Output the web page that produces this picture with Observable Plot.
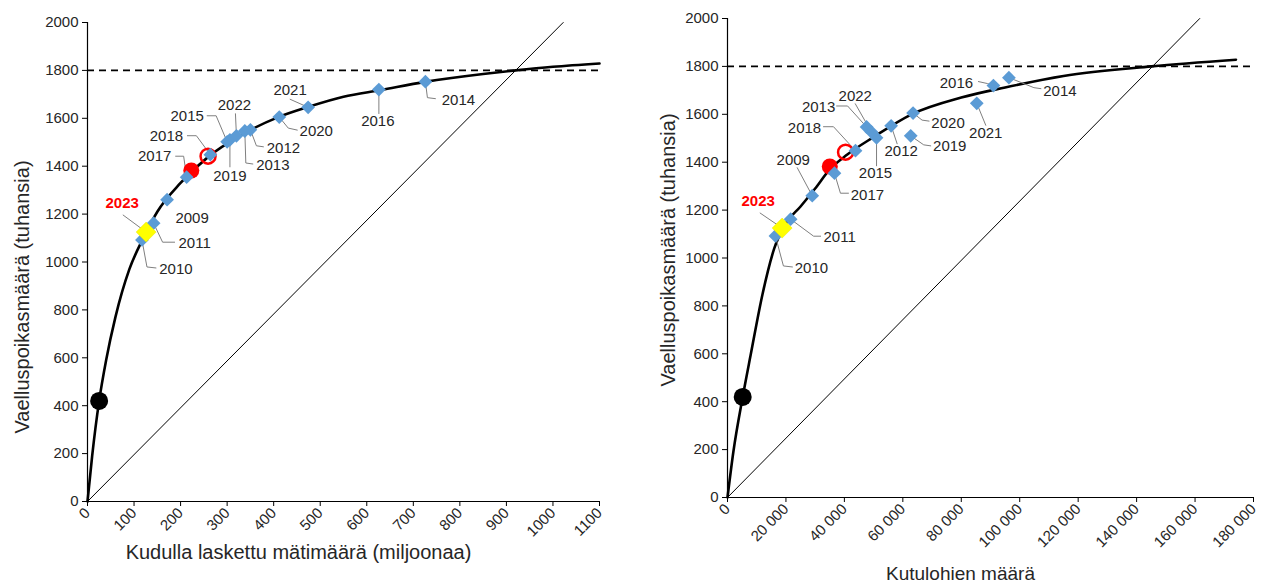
<!DOCTYPE html>
<html><head><meta charset="utf-8">
<script src="https://cdn.jsdelivr.net/npm/d3@7"></script>
<script src="https://cdn.jsdelivr.net/npm/@observablehq/plot@0.6"></script>
<style>
body{margin:0;background:#fff;font-family:Arial,"Liberation Sans",sans-serif;}
#wrap{position:relative;width:1264px;height:585px;overflow:hidden;}
#left,#right{position:absolute;top:0;}
#left{left:0} #right{left:632px}
</style></head><body>
<div id="wrap"><div id="left"></div><div id="right"></div></div>
<script>
// ---------- data ----------
const years    = [2009, 2010, 2011, 2012, 2013, 2014, 2015, 2016, 2017, 2018, 2019, 2020, 2021, 2022];
const smolts   = [1260, 1092, 1162, 1552, 1547, 1753, 1502, 1720, 1354, 1448, 1510, 1605, 1646, 1527];
const eggs     = [171, 117, 142, 350, 338, 726, 300, 626, 213, 264, 306, 412, 474, 320];
const spawners = [29000, 16400, 21600, 56000, 47600, 96300, 51000, 91000, 36600, 43800, 62700, 63500, 85300, 49200];

const year2023 = 2023, smolts2023 = 1125, eggs2023 = 126, spawners2023 = 18700;

// reference points: [black dot, red filled, red open]
const refSmolts   = [420, 1382, 1442];
const refEggs     = [25, 223, 259];
const refSpawners = [5200, 35000, 40400];

// fitted stock-recruit curves
const eggCurveX   = [0, 10, 25, 40, 60, 90, 120, 150, 200, 260, 330, 410, 475, 550, 630, 725, 850, 920, 1000, 1100];
const eggCurveY   = [0, 190, 420, 590, 770, 970, 1100, 1210, 1330, 1440, 1530, 1605, 1648, 1690, 1718, 1752, 1785, 1800, 1815, 1829];
const spawnCurveX = [0, 2000, 5200, 8000, 12000, 16000, 20000, 25000, 30000, 35000, 41000, 50000, 63000, 80000, 95000, 115000, 145000, 174000];
const spawnCurveY = [0, 190, 420, 600, 850, 1040, 1145, 1215, 1290, 1370, 1432, 1505, 1600, 1670, 1712, 1760, 1800, 1828];

// replacement lines and maximum level
const eggDiagX = [0, 1022], spawnDiagX = [0, 161600], diagY = [0, 2000];
const maxLevel = 1800;

const yTicks = [0, 200, 400, 600, 800, 1000, 1200, 1400, 1600, 1800, 2000];
const eggTicks = [0, 100, 200, 300, 400, 500, 600, 700, 800, 900, 1000, 1100];
const spawnTicks = [0, 20000, 40000, 60000, 80000, 100000, 120000, 140000, 160000, 180000];

const yTitle = "Vaelluspoikasmäärä (tuhansia)";
const eggTitle = "Kudulla laskettu mätimäärä (miljoonaa)";
const spawnTitle = "Kutulohien määrä";

// ---------- label layout (pixel offsets) ----------
// d: label centre relative to marker; l: leader points relative to label centre (ends at marker)
const layoutLeft = {
  2014: {d: [33, 19], l: [[-23, -2], [-31, -3]]},
  2016: {d: [-1, 32], l: [[1, -8]]},
  2021: {d: [-18, -17], l: [[0, 9]]},
  2020: {d: [37, 14], l: [[-19, -1], [-28, -3]]},
  2012: {d: [33, 18], l: [[-20, -1], [-27, -2]]},
  2013: {d: [28, 34], l: [[-20, -1], [-27, -2]]},
  2019: {d: [0, 36], l: [[0, -9]]},
  2015: {d: [-40, -26], l: [[20, 0], [29, 0]]},
  2022: {d: [-2, -31], l: [[1, 9]]},
  2018: {d: [-44, -19], l: [[21, 0], [30, 0]]},
  2017: {d: [-32, -21], l: [[21, 0], [29, 0]]},
  2009: {d: [25, 18], l: null},
  2011: {d: [41, 20], l: [[-20, -1], [-32, -1]]},
  2010: {d: [34, 29], l: [[-20, -1], [-29, -2]]},
  2023: {d: [-24, -29], l: [[1, 12]]}
};
const layoutRight = {
  2014: {d: [51, 14], l: [[-19, -3], [-26, -4]]},
  2016: {d: [-37, -2], l: [[22, -2], [31, 0]]},
  2021: {d: [9, 30], l: [[0, -8]]},
  2020: {d: [35, 10], l: [[-19, -2], [-26, -3]]},
  2019: {d: [39, 10], l: [[-19, 0], [-26, -1]]},
  2012: {d: [10, 25], l: [[-4, -7]]},
  2015: {d: [-1, 35], l: [[1, -7]]},
  2013: {d: [-48, -20], l: [[18, -1], [29, -1]]},
  2022: {d: [-16, -36], l: [[0, 8]]},
  2018: {d: [-51, -23], l: [[19, -1], [29, -1]]},
  2009: {d: [-19, -36], l: [[4, 8]]},
  2017: {d: [33, 22], l: [[-19, -2], [-27, -2]]},
  2011: {d: [49, 18], l: [[-19, -1], [-26, -1]]},
  2010: {d: [36, 32], l: [[-19, -1], [-28, -2]]},
  2023: {d: [-24, -27], l: [[2, 12]]}
};

const spaceFmt = d => d === 0 ? "0" : d3.format(",")(d).replace(/,/g, " ");
const INK = "#262626";

function chart(cfg) {
  const {W, H, ml, mr, mt, mb, xDomain, xTicks, xFmt, curveX, curveY, diagX, ptsX, x23, refX, layout,
         xTitle, xtDx, xtDy, xtSize, ytDx, ytDy} = cfg;
  const xs = d3.scaleLinear(xDomain, [ml, W - mr]);
  const ys = d3.scaleLinear([0, 2000], [H - mb, mt]);
  const pts = years.map((yr, i) => ({yr, x: ptsX[i], y: smolts[i]}));
  const p23 = {yr: year2023, x: x23, y: smolts2023};
  const curve = curveX.map((x, i) => ({x, y: curveY[i]}));
  const diag = diagX.map((x, i) => ({x, y: diagY[i]}));
  const labels = [], leaders = [];
  for (const p of [...pts, p23]) {
    const L = layout[p.yr];
    const px = xs(p.x), py = ys(p.y);
    const lx = px + L.d[0], ly = py + L.d[1];
    labels.push({yr: p.yr, x: xs.invert(lx), y: ys.invert(ly), red: p.yr === year2023});
    if (L.l) {
      const chain = L.l.map(([a, b]) => [lx + a, ly + b]);
      chain.push([px, py]);
      chain.forEach(([a, b]) => leaders.push({k: p.yr, x: xs.invert(a), y: ys.invert(b)}));
    }
  }
  const refs = refX.map((x, i) => ({x, y: refSmolts[i], kind: i}));
  return Plot.plot({
    width: W, height: H,
    marginLeft: ml, marginRight: mr, marginTop: mt, marginBottom: mb,
    x: {domain: xDomain, label: null},
    y: {domain: [0, 2000], label: null},
    style: {fontFamily: "Arial, 'Liberation Sans', sans-serif", color: INK, background: "#fff", overflow: "visible"},
    marks: [
      Plot.line(diag, {x: "x", y: "y", stroke: "#000", strokeWidth: 1}),
      Plot.ruleY([maxLevel], {x1: 0, x2: xDomain[1], stroke: "#000", strokeWidth: 1.6, strokeDasharray: "7,5"}),
      Plot.line(curve, {x: "x", y: "y", stroke: "#000", strokeWidth: 2.6, curve: "monotone-x"}),
      Plot.line(leaders, {x: "x", y: "y", z: "k", stroke: "#7f7f7f", strokeWidth: 1}),
      Plot.dot(refs.filter(d => d.kind === 0), {x: "x", y: "y", r: 9, fill: "#000"}),
      Plot.dot(refs.filter(d => d.kind === 1), {x: "x", y: "y", r: 8, fill: "#ff0000"}),
      Plot.dot(refs.filter(d => d.kind === 2), {x: "x", y: "y", r: 7.5, fill: "none", stroke: "#ff0000", strokeWidth: 2.5}),
      Plot.dot(pts, {x: "x", y: "y", symbol: "diamond2", r: 6.2, fill: "#5b9bd5"}),
      Plot.dot([p23], {x: "x", y: "y", symbol: "diamond2", r: 9, fill: "#ffff00", stroke: "#e6e600", strokeWidth: 0.5}),
      Plot.text(labels.filter(d => !d.red), {x: "x", y: "y", text: d => String(d.yr), fontSize: 15, fill: INK}),
      Plot.text(labels.filter(d => d.red), {x: "x", y: "y", text: d => String(d.yr), fontSize: 15, fontWeight: "bold", fill: "#ff0000"}),
      Plot.ruleX([0], {y1: 0, y2: 2000, stroke: "#000", strokeWidth: 1.2}),
      Plot.ruleY([0], {x1: 0, x2: xDomain[1], stroke: "#000", strokeWidth: 1.2}),
      Plot.axisY({ticks: yTicks, tickSize: 5, tickPadding: 4, tickFormat: d => String(d), fontSize: 15, label: null, stroke: "#000"}),
      Plot.axisX({ticks: xTicks, tickSize: 5, tickPadding: 4, tickRotate: -45, tickFormat: xFmt, fontSize: 15, label: null, stroke: "#000"}),
      Plot.text([xTitle], {frameAnchor: "bottom", textAnchor: "middle", lineAnchor: "middle", dx: xtDx, dy: xtDy, fontSize: xtSize, fill: INK}),
      Plot.text([yTitle], {frameAnchor: "left", textAnchor: "middle", lineAnchor: "middle", dx: ytDx, dy: ytDy, rotate: -90, fontSize: 20, fill: INK})
    ]
  });
}

document.getElementById("left").append(chart({
  W: 632, H: 585, ml: 87, mr: 33, mt: 22, mb: 84,
  xDomain: [0, 1100], xTicks: eggTicks, xFmt: d => String(d),
  curveX: eggCurveX, curveY: eggCurveY, diagX: eggDiagX, ptsX: eggs, x23: eggs2023, refX: refEggs,
  layout: layoutLeft, xTitle: eggTitle, xtDx: -45, xtDy: 51, xtSize: 20, ytDx: -65, ytDy: 35
}));
document.getElementById("right").append(chart({
  W: 632, H: 585, ml: 95, mr: 11, mt: 18, mb: 88,
  xDomain: [0, 180000], xTicks: spawnTicks, xFmt: spaceFmt,
  curveX: spawnCurveX, curveY: spawnCurveY, diagX: spawnDiagX, ptsX: spawners, x23: spawners2023, refX: refSpawners,
  layout: layoutRight, xTitle: spawnTitle, xtDx: -30, xtDy: 76, xtSize: 19, ytDx: -59, ytDy: -8
}));
</script>
</body></html>
